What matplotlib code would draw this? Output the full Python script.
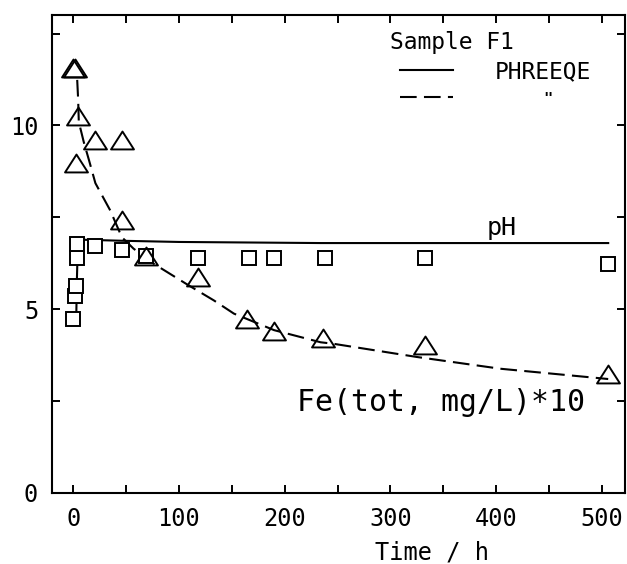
import matplotlib
matplotlib.use("Agg")
import numpy as np
import matplotlib.pyplot as plt
from matplotlib.path import Path
from matplotlib.ticker import MultipleLocator

# measured pH (squares)
ph_t = [0, 2, 2.5, 3.5, 4, 21, 46, 69, 118, 166, 190, 238, 333, 506]
ph_val = [4.72, 5.35, 5.62, 6.38, 6.78, 6.72, 6.6, 6.45, 6.38, 6.38, 6.38, 6.4, 6.38, 6.22]

# measured Fe(tot)*10 (triangles)
fe_t = [0, 2, 3, 4.5, 21, 46, 46, 69, 118, 164, 190, 236, 333, 506]
fe_val = [11.56, 11.56, 8.97, 10.25, 9.6, 9.6, 7.42, 6.45, 5.87, 4.74, 4.42, 4.22, 4.02, 3.24]

# PHREEQE model curves
mod_ph_t = [2.8, 3.5, 4.5, 10, 50, 100, 234, 506]
mod_ph = [4.6, 5.8, 6.85, 6.89, 6.86, 6.83, 6.8, 6.8]

mod_fe_t = [3.8, 4.7, 5.3, 7, 10, 15, 21, 35, 46, 57, 76, 108, 133, 152, 190, 234,
            246, 325, 404, 506]
mod_fe = [11.24, 10.7, 10.1, 9.9, 9.55, 9.05, 8.43, 7.69, 6.96, 6.65, 6.24, 5.67,
          5.24, 4.88, 4.43, 4.1, 4.06, 3.7, 3.38, 3.1]

# legend sample line span (h)
leg_t = [309, 359]

FONT = "DejaVu Sans Mono"
tri = Path([(-1, -0.78), (1, -0.78), (0, 0.78), (-1, -0.78)],
           [Path.MOVETO, Path.LINETO, Path.LINETO, Path.CLOSEPOLY])
DASH = (0, (8, 3.5))

fig = plt.figure(figsize=(6.27, 5.64), dpi=100)
ax = fig.add_axes([0.083, 0.126, 0.914, 0.847])

ax.plot(mod_ph_t, mod_ph, "-", color="black", lw=1.5)
ax.plot(mod_fe_t, mod_fe, color="black", lw=1.5, ls=DASH)
ax.plot(ph_t, ph_val, "s", ms=9.6, mfc="white", mec="black", mew=1.4, ls="none")
ax.plot(fe_t, fe_val, marker=tri, ms=16.5, mfc="none", mec="black", mew=1.4, ls="none")

ax.set_xlim(-20, 522)
ax.set_ylim(0, 13)
ax.xaxis.set_major_locator(MultipleLocator(100))
ax.xaxis.set_minor_locator(MultipleLocator(50))
ax.yaxis.set_major_locator(MultipleLocator(5))
ax.yaxis.set_minor_locator(MultipleLocator(2.5))
ax.tick_params(which="both", direction="in", top=True, right=True,
               length=5.5, width=1.4, labelsize=17, pad=10)
for lab in ax.get_xticklabels() + ax.get_yticklabels():
    lab.set_family(FONT)
for s in ax.spines.values():
    s.set_linewidth(1.5)

ax.set_xlabel("Time / h", family=FONT, fontsize=17, labelpad=7)
ax.xaxis.label.set_x(0.663)

# legend block
ax.text(300, 12.27, "Sample F1", family=FONT, fontsize=16.5, va="center")
ax.plot(leg_t, [11.5, 11.5], "-", color="black", lw=1.5)
ax.plot(leg_t, [10.77, 10.77], color="black", lw=1.5, ls=DASH)
ax.text(399, 11.45, "PHREEQE", family=FONT, fontsize=16.5, va="center")
ax.text(449, 10.72, '"', family=FONT, fontsize=11, fontweight="bold",
        va="center", ha="center")

ax.text(405, 7.2, "pH", family=FONT, fontsize=18, va="center", ha="center")
ax.text(212, 2.46, "Fe(tot, mg/L)*10", family=FONT, fontsize=21.5, va="center")

fig.savefig("out.png", dpi=100)
